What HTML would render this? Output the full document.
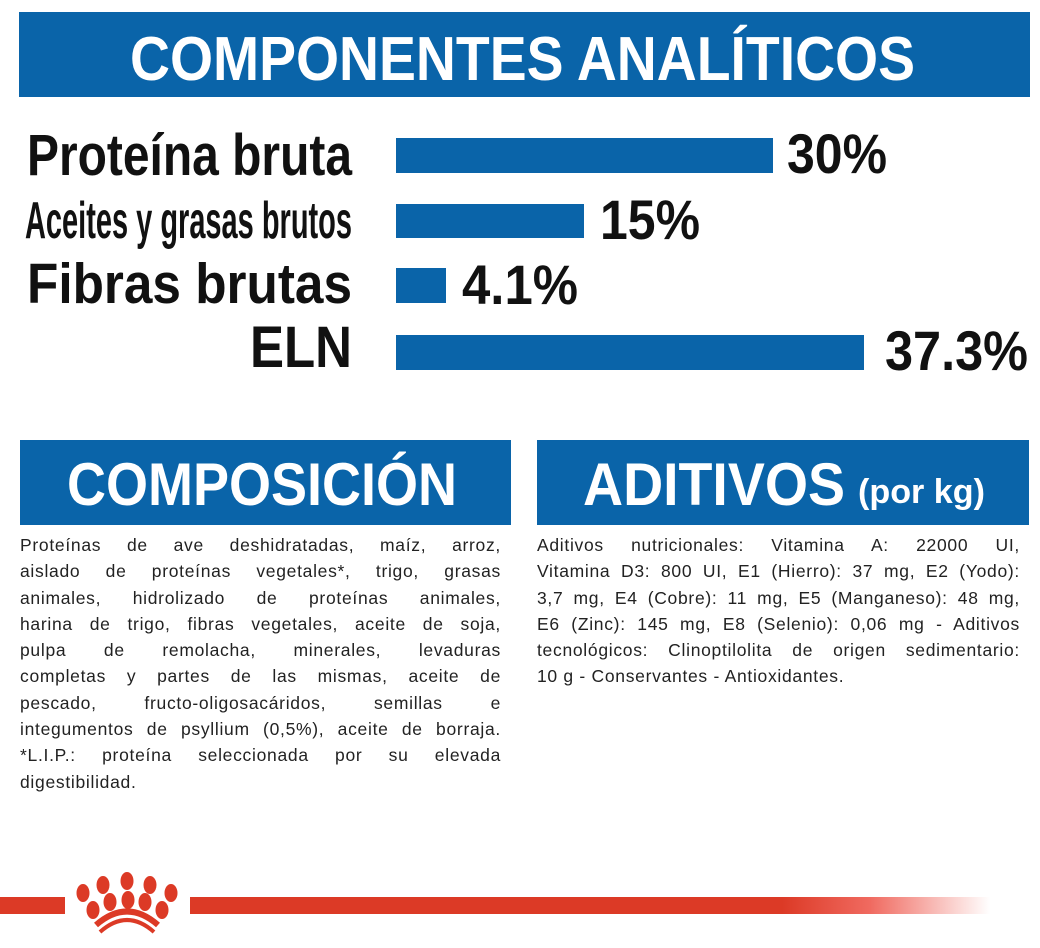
<!DOCTYPE html>
<html><head><meta charset="utf-8"><style>
html,body{margin:0;padding:0;background:#fff;}
body{width:1040px;height:948px;position:relative;overflow:hidden;}
svg{position:absolute;left:0;top:0;}
.p{position:absolute;font-family:"Liberation Sans",sans-serif;font-size:17.5px;letter-spacing:0.7px;color:#222;line-height:26.3px;}
.p div{text-align:justify;text-align-last:justify;white-space:normal;}
.p div.l{text-align-last:left;}
</style></head><body>
<svg width="1040" height="948" viewBox="0 0 1040 948">
<defs><linearGradient id="g" x1="0" x2="1"><stop offset="0" stop-color="#dc3a26"/><stop offset="0.74" stop-color="#dc3a26"/><stop offset="0.85" stop-color="#f06a60"/><stop offset="1" stop-color="#fff"/></linearGradient></defs>
<rect x="19" y="12" width="1011" height="85" fill="#0a64a9"/>
<g font-family="Liberation Sans, sans-serif" font-weight="bold">
<text x="130" y="80" font-size="62" fill="#fff" textLength="785" lengthAdjust="spacingAndGlyphs">COMPONENTES ANALÍTICOS</text>
<text x="27" y="175" font-size="58" fill="#111" textLength="325" lengthAdjust="spacingAndGlyphs">Proteína bruta</text>
<text x="25" y="238" font-size="52" fill="#111" textLength="327" lengthAdjust="spacingAndGlyphs">Aceites y grasas brutos</text>
<text x="27" y="303" font-size="57" fill="#111" textLength="325" lengthAdjust="spacingAndGlyphs">Fibras brutas</text>
<text x="250" y="367" font-size="58" fill="#111" textLength="102" lengthAdjust="spacingAndGlyphs">ELN</text>
<text x="787" y="173" font-size="56" fill="#111" textLength="100" lengthAdjust="spacingAndGlyphs">30%</text>
<text x="600" y="239" font-size="56" fill="#111" textLength="100" lengthAdjust="spacingAndGlyphs">15%</text>
<text x="462" y="304" font-size="56" fill="#111" textLength="116" lengthAdjust="spacingAndGlyphs">4.1%</text>
<text x="885" y="370" font-size="56" fill="#111" textLength="143" lengthAdjust="spacingAndGlyphs">37.3%</text>
</g>
<rect x="396" y="138" width="377" height="35" fill="#0a64a9"/>
<rect x="396" y="204" width="188" height="34" fill="#0a64a9"/>
<rect x="396" y="268" width="50" height="35" fill="#0a64a9"/>
<rect x="396" y="335" width="468" height="35" fill="#0a64a9"/>
<rect x="20" y="440" width="491" height="85" fill="#0a64a9"/>
<rect x="537" y="440" width="492" height="85" fill="#0a64a9"/>
<g font-family="Liberation Sans, sans-serif" font-weight="bold" fill="#fff">
<text x="67" y="505" font-size="60" textLength="390" lengthAdjust="spacingAndGlyphs">COMPOSICIÓN</text>
<text x="583" y="505" font-size="60" textLength="262" lengthAdjust="spacingAndGlyphs">ADITIVOS</text>
<text x="858" y="503" font-size="34" textLength="127" lengthAdjust="spacingAndGlyphs">(por kg)</text>
</g>
<rect x="0" y="897" width="65" height="17" fill="#dc3a26"/>
<rect x="190" y="897" width="800" height="17" fill="url(#g)"/>
<g fill="#dc3a26">
<ellipse cx="103" cy="885" rx="6.5" ry="9"/><ellipse cx="127" cy="881" rx="6.5" ry="9"/><ellipse cx="150" cy="885" rx="6.5" ry="9"/>
<ellipse cx="83" cy="893" rx="6.5" ry="9"/><ellipse cx="171" cy="893" rx="6.5" ry="9"/>
<ellipse cx="110" cy="902" rx="6.5" ry="9"/><ellipse cx="128" cy="900" rx="6.5" ry="9"/><ellipse cx="145" cy="902" rx="6.5" ry="9"/>
<ellipse cx="93" cy="910" rx="6.5" ry="9"/><ellipse cx="162" cy="910" rx="6.5" ry="9"/>
</g>
<path d="M96 925 Q127 898 158 925" stroke="#dc3a26" stroke-width="6" fill="none"/>
<path d="M100 932 Q127 908 154 932" stroke="#dc3a26" stroke-width="4" fill="none"/>
</svg>
<div class="p" style="left:20px;top:532px;width:481px;">
<div>Proteínas de ave deshidratadas, maíz, arroz,</div>
<div>aislado de proteínas vegetales*, trigo, grasas</div>
<div>animales, hidrolizado de proteínas animales,</div>
<div>harina de trigo, fibras vegetales, aceite de soja,</div>
<div>pulpa de remolacha, minerales, levaduras</div>
<div>completas y partes de las mismas, aceite de</div>
<div>pescado, fructo-oligosacáridos, semillas e</div>
<div>integumentos de psyllium (0,5%), aceite de borraja.</div>
<div>*L.I.P.: proteína seleccionada por su elevada</div>
<div class="l">digestibilidad.</div>
</div>
<div class="p" style="left:537px;top:532px;width:483px;">
<div>Aditivos nutricionales: Vitamina A: 22000 UI,</div>
<div>Vitamina D3: 800 UI, E1 (Hierro): 37 mg, E2 (Yodo):</div>
<div>3,7 mg, E4 (Cobre): 11 mg, E5 (Manganeso): 48 mg,</div>
<div>E6 (Zinc): 145 mg, E8 (Selenio): 0,06 mg - Aditivos</div>
<div>tecnológicos: Clinoptilolita de origen sedimentario:</div>
<div class="l">10 g - Conservantes - Antioxidantes.</div>
</div>
</body></html>
